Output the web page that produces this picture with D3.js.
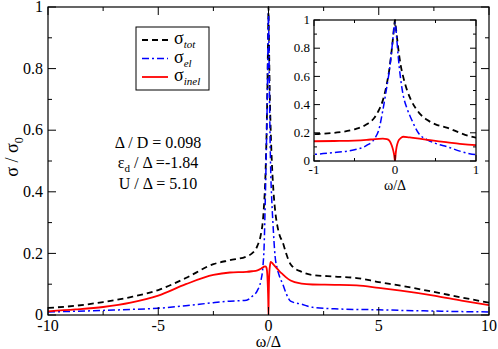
<!DOCTYPE html>
<html>
<head>
<meta charset="utf-8">
<script src="https://cdn.jsdelivr.net/npm/d3@7"></script>
<style>
  body { margin: 0; background: #fff; }
  svg text { font-family: "Liberation Serif", "Times New Roman", "DejaVu Serif", serif; }
</style>
</head>
<body>
<div id="chart"></div>
<script>
// omega / Delta grid, shared by all three curves
var omega = [-10, -8.75, -7.5, -6.25, -5, -3.75, -2.5, -1.75, -1, -0.75, -0.5, -0.35, -0.25, -0.2, -0.15,
    -0.1, -0.07, -0.04, -0.02, -0.01, 0, 0.01, 0.02, 0.04, 0.07, 0.1, 0.15, 0.2, 0.3, 0.4, 0.5,
    0.65, 0.8, 1, 1.5, 2, 3, 4, 5, 6, 7.5, 8.75, 10];

// sigma_tot (black dashed)
var sigTot = [0.023, 0.03, 0.042, 0.058, 0.081, 0.12, 0.165, 0.178, 0.19, 0.2, 0.225, 0.26, 0.31, 0.36, 0.43,
    0.55, 0.65, 0.79, 0.9, 0.96, 1.0, 0.95, 0.9, 0.8, 0.68, 0.6, 0.5, 0.43, 0.34, 0.29, 0.26,
    0.235, 0.2, 0.165, 0.14, 0.13, 0.125, 0.12, 0.107, 0.095, 0.075, 0.057, 0.04];

// sigma_el (blue dash-dot)
var sigEl = [0.01, 0.012, 0.015, 0.018, 0.022, 0.03, 0.04, 0.045, 0.048, 0.06, 0.08, 0.11, 0.16, 0.22, 0.36,
    0.53, 0.64, 0.79, 0.9, 0.95, 0.98, 0.94, 0.88, 0.74, 0.58, 0.47, 0.37, 0.3, 0.19, 0.15, 0.125,
    0.1, 0.07, 0.045, 0.035, 0.025, 0.02, 0.018, 0.017, 0.015, 0.013, 0.011, 0.01];

// sigma_inel (red solid)
var sigInel = [0.012, 0.018, 0.026, 0.04, 0.063, 0.1, 0.13, 0.138, 0.14, 0.142, 0.145, 0.15, 0.155, 0.157, 0.158,
    0.155, 0.145, 0.11, 0.07, 0.04, 0.0, 0.06, 0.1, 0.14, 0.162, 0.172, 0.17, 0.166, 0.158, 0.15, 0.142,
    0.132, 0.122, 0.112, 0.102, 0.099, 0.098, 0.096, 0.088, 0.079, 0.063, 0.047, 0.032];

var series = [
    {key: "tot", values: sigTot, color: "#000000", dash: "6,4", width: 1.8},
    {key: "el", values: sigEl, color: "#0000ff", dash: "7,3,2,3", width: 1.5},
    {key: "inel", values: sigInel, color: "#ff0000", dash: null, width: 1.8}
];

var annotations = ["\u0394 / D = 0.098", "\u03b5d / \u0394 =-1.84", "U / \u0394 = 5.10"];

var width = 498, height = 349;

var svg = d3.select("#chart").append("svg")
    .attr("width", width)
    .attr("height", height);

function rows(s) {
    return omega.map(function(w, i) { return {x: w, y: s.values[i]}; });
}

// draws a framed panel with mirrored inward ticks
function panel(opt) {
    var x = d3.scaleLinear().domain(opt.xDomain).range([opt.left, opt.right]);
    var y = d3.scaleLinear().domain([0, 1]).range([opt.bottom, opt.top]);
    var g = svg.append("g");

    g.append("rect")
        .attr("x", opt.left).attr("y", opt.top)
        .attr("width", opt.right - opt.left).attr("height", opt.bottom - opt.top)
        .attr("fill", "#fff");

    var clipId = "clip-" + opt.name;
    svg.append("clipPath").attr("id", clipId)
        .append("rect")
        .attr("x", opt.left).attr("y", opt.top - 1)
        .attr("width", opt.right - opt.left).attr("height", opt.bottom - opt.top + 1);

    var line = d3.line()
        .x(function(d) { return x(d.x); })
        .y(function(d) { return y(d.y); })
        .curve(d3.curveMonotoneX);

    var lines = g.append("g").attr("clip-path", "url(#" + clipId + ")");
    series.forEach(function(s) {
        lines.append("path")
            .datum(rows(s))
            .attr("d", line)
            .attr("fill", "none")
            .attr("stroke", s.color)
            .attr("stroke-width", s.width)
            .attr("stroke-dasharray", s.dash);
    });

    var major = opt.major, minor = opt.minor;
    var xMinor = d3.range(opt.xDomain[0], opt.xDomain[1] + 1e-9, opt.xMinorStep);
    var yMinor = d3.range(0, 1 + 1e-9, 0.1);

    function isMajor(v, step) { return Math.abs(v / step - Math.round(v / step)) < 1e-6; }

    xMinor.forEach(function(v) {
        var len = isMajor(v - opt.xDomain[0], opt.xMajorStep) ? major : minor;
        g.append("line").attr("x1", x(v)).attr("x2", x(v))
            .attr("y1", opt.bottom).attr("y2", opt.bottom - len)
            .attr("stroke", "#000").attr("stroke-width", 1);
        g.append("line").attr("x1", x(v)).attr("x2", x(v))
            .attr("y1", opt.top).attr("y2", opt.top + len)
            .attr("stroke", "#000").attr("stroke-width", 1);
    });
    yMinor.forEach(function(v) {
        var len = isMajor(v, 0.2) ? major : minor;
        g.append("line").attr("y1", y(v)).attr("y2", y(v))
            .attr("x1", opt.left).attr("x2", opt.left + len)
            .attr("stroke", "#000").attr("stroke-width", 1);
        g.append("line").attr("y1", y(v)).attr("y2", y(v))
            .attr("x1", opt.right).attr("x2", opt.right - len)
            .attr("stroke", "#000").attr("stroke-width", 1);
    });

    g.append("rect")
        .attr("x", opt.left).attr("y", opt.top)
        .attr("width", opt.right - opt.left).attr("height", opt.bottom - opt.top)
        .attr("fill", "none").attr("stroke", "#000").attr("stroke-width", 1.2);

    var xTicks = d3.range(opt.xDomain[0], opt.xDomain[1] + 1e-9, opt.xMajorStep);
    g.selectAll(null).data(xTicks).enter().append("text")
        .attr("x", function(d) { return x(d); })
        .attr("y", opt.bottom + opt.xLabelDy)
        .attr("text-anchor", "middle")
        .style("font-size", opt.fontSize + "px")
        .text(function(d) { return d; });

    g.selectAll(null).data(d3.range(0, 1.0001, 0.2)).enter().append("text")
        .attr("x", opt.left - opt.yLabelDx)
        .attr("y", function(d) { return y(d) + opt.fontSize * 0.33; })
        .attr("text-anchor", "end")
        .style("font-size", opt.fontSize + "px")
        .text(function(d) { return Math.round(d * 10) / 10; });

    g.append("text")
        .attr("x", (opt.left + opt.right) / 2)
        .attr("y", opt.bottom + opt.titleDy)
        .attr("text-anchor", "middle")
        .style("font-size", opt.titleSize + "px")
        .text("\u03c9/\u0394");

    return {x: x, y: y, g: g};
}

// main panel
var main = panel({
    name: "main", left: 48, right: 489, top: 7, bottom: 315,
    xDomain: [-10, 10], xMajorStep: 5, xMinorStep: 2.5,
    major: 8, minor: 4, fontSize: 16, xLabelDy: 16, yLabelDx: 5,
    titleDy: 32, titleSize: 16
});

// y axis label
svg.append("text")
    .attr("transform", "translate(18,157) rotate(-90)")
    .attr("text-anchor", "middle")
    .style("font-size", "18px")
    .html("\u03c3 / \u03c3<tspan dy='5' font-size='12'>0</tspan>");

// legend
var legend = svg.append("g");
legend.append("rect")
    .attr("x", 136).attr("y", 27).attr("width", 73).attr("height", 63)
    .attr("fill", "#fff").attr("stroke", "#000").attr("stroke-width", 1);
series.forEach(function(s, i) {
    var ly = 40 + i * 18.5;
    legend.append("line")
        .attr("x1", 142).attr("x2", 168).attr("y1", ly).attr("y2", ly)
        .attr("stroke", s.color).attr("stroke-width", s.width)
        .attr("stroke-dasharray", s.dash);
    legend.append("text")
        .attr("x", 174).attr("y", ly + 4)
        .style("font-size", "18px")
        .html("\u03c3<tspan dy='4' font-size='11' font-style='italic'>" + s.key + "</tspan>");
});

// parameter annotations
svg.append("text").attr("x", 158).attr("y", 148).attr("text-anchor", "middle")
    .style("font-size", "16px").text(annotations[0]);
svg.append("text").attr("x", 158).attr("y", 168).attr("text-anchor", "middle")
    .style("font-size", "16px")
    .html("\u03b5<tspan dy='4' font-size='11'>d</tspan><tspan dy='-4'> / \u0394 =-1.84</tspan>");
svg.append("text").attr("x", 158).attr("y", 189).attr("text-anchor", "middle")
    .style("font-size", "16px").text(annotations[2]);

// inset panel
var inset = panel({
    name: "inset", left: 314, right: 476, top: 20, bottom: 161,
    xDomain: [-1, 1], xMajorStep: 1, xMinorStep: 0.5,
    major: 6, minor: 3, fontSize: 13, xLabelDy: 13, yLabelDx: 4,
    titleDy: 29, titleSize: 14
});
</script>
</body>
</html>
